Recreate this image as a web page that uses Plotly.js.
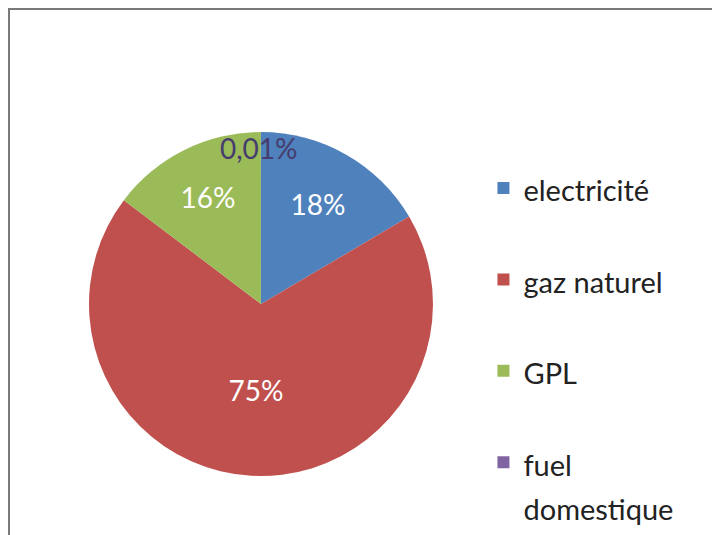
<!DOCTYPE html>
<html>
<head>
<meta charset="utf-8">
<script src="https://cdn.plot.ly/plotly-3.0.1.min.js"></script>
<style>
html,body{margin:0;padding:0;background:#fff;}
#chart{width:712px;height:535px;}
</style>
</head>
<body>
<div id="chart"></div>
<script>
const categories = ['electricité', 'gaz naturel', 'GPL', 'fuel<br>domestique'];
const values = [18, 75, 16, 0.01];
const valueLabels = ['18%', '75%', '16%', '0,01%'];
const colors = ['#4F81BD', '#C0504D', '#9BBB59', '#8064A2'];

// legend text drawn at 29px inside a 34px legend line grid to get the wide row spacing
const legendLabels = categories.map((c, i) => {
  const t = '<span style="font-size:29px">' + c.split('<br>').join('</span><br><span style="font-size:29px">') + '</span>';
  return i < categories.length - 1 ? t + '<br> ' : t;
});

const trace = {
  type: 'pie',
  labels: legendLabels,
  values: values,
  text: valueLabels,
  textinfo: 'text',
  texttemplate: '%{text}',
  textposition: ['inside', 'inside', 'inside', 'none'],
  insidetextorientation: 'horizontal',
  sort: false,
  direction: 'clockwise',
  rotation: 0,
  marker: {colors: colors, line: {width: 0}},
  textfont: {family: 'Lato, sans-serif', size: 28, color: '#ffffff'},
  domain: {x: [0.125, 0.6081], y: [0.1103, 0.7533]},
  hoverinfo: 'label+text'
};

const layout = {
  width: 712,
  height: 535,
  margin: {l: 0, r: 0, t: 0, b: 0, autoexpand: false},
  paper_bgcolor: '#ffffff',
  showlegend: true,
  legend: {
    x: 0.679, xanchor: 'left',
    y: 0.702, yanchor: 'top',
    valign: 'top',
    font: {family: 'Lato, sans-serif', size: 34, color: '#222222'},
    bgcolor: 'rgba(0,0,0,0)'
  },
  annotations: [{
    text: valueLabels[3],
    xref: 'paper', yref: 'paper',
    x: 259 / 712, y: 1 - 148 / 535,
    xanchor: 'center', yanchor: 'middle',
    showarrow: false,
    font: {family: 'Lato, sans-serif', size: 28, color: '#463c6e'}
  }],
  shapes: [{
    type: 'rect', xref: 'paper', yref: 'paper',
    x0: 9 / 712, x1: 1.2, y0: -0.2, y1: 1 - 9 / 535,
    line: {color: '#7a7a7a', width: 2},
    fillcolor: 'rgba(0,0,0,0)',
    layer: 'below'
  }]
};

Plotly.newPlot('chart', [trace], layout, {displayModeBar: false, staticPlot: true});
</script>
</body>
</html>
